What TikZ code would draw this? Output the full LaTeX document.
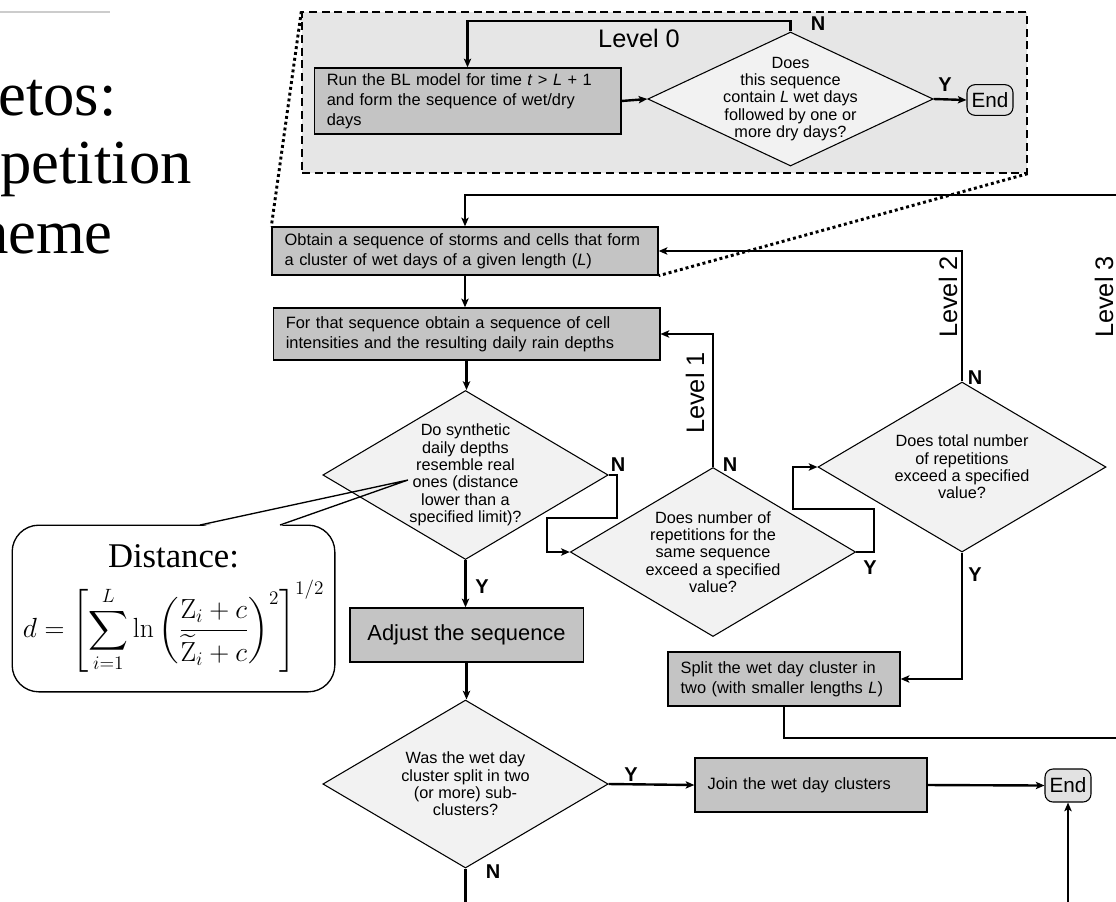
\documentclass[tikz,border=0pt]{standalone}
\usepackage[no-math]{fontspec}
\setmainfont{Liberation Sans}
\newfontfamily\serifttl{Liberation Serif}
\usepackage{amsmath}
\usetikzlibrary{shapes.geometric,arrows.meta}

\definecolor{boxgray}{HTML}{C4C4C4}
\definecolor{diagray}{HTML}{F2F2F2}
\definecolor{zonegray}{HTML}{E6E6E6}
\definecolor{endgray}{HTML}{E2E2E2}

\tikzset{
  procbox/.style={draw, line width=1pt, fill=boxgray, align=left, inner xsep=9.5pt, inner ysep=2pt,
    font=\fontsize{12.3}{15}\selectfont},
  decision/.style={draw, line width=0.8pt, fill=diagray, diamond, inner sep=0pt, minimum width=214pt},
  qtext/.style={align=center, inner sep=0pt, font=\fontsize{12.2}{13}\selectfont},
  stopbox/.style={draw, line width=0.8pt, fill=endgray, rounded corners=6pt, inner sep=0pt,
    minimum width=34.5pt, minimum height=23pt, font=\fontsize{15.5}{16}\selectfont},
  conn/.style={line width=1.8pt, -{Stealth[length=6.5pt,width=5.5pt,inset=1.5pt]}},
  yesno/.style={inner sep=0pt, font=\fontsize{15}{15}\bfseries\selectfont},
  lvl/.style={inner sep=0pt, font=\fontsize{19}{19}\selectfont},
  ttl/.style={anchor=base east, inner sep=0pt, font=\serifttl\fontsize{47}{52}\selectfont},
}

\begin{document}
\begin{tikzpicture}[x=0.75pt,y=-0.75pt]
  \useasboundingbox (0,0) rectangle (1116,901);

  % title, cut at the slide edge
  \draw[gray!40, line width=0.8pt] (0,12) -- (110,12);
  \node[ttl] (ttla) at (117,115) {etos:};
  \node[ttl] (ttlb) at (192,183) {petition};
  \node[ttl] (ttlc) at (113,253) {heme};

  % level 0 zone
  \node[draw, dashed, dash pattern=on 6pt off 3.5pt, line width=1pt, fill=zonegray,
    minimum width=543.75pt, minimum height=120.75pt, inner sep=0pt] (zone) at (664.5,92.5) {};
  \node[procbox, text width=211pt, minimum height=49.5pt] (run) at (467.5,101)
    {Run the BL model for time \textit{t} > \textit{L} + 1\\and form the sequence of wet/dry\\days};
  \node[decision, minimum height=100.5pt,
    label={[qtext]center:{Does\\this sequence\\contain \textit{L} wet days\\followed by one or\\more dry days?}}]
    (d0) at (790.5,99) {};
  \node[stopbox] (end0) at (990,100) {End};
  \coordinate (top0) at (0,21);

  % main chain
  \node[procbox, text width=270.5pt, minimum height=36pt] (obtain) at (465,251)
    {Obtain a sequence of storms and cells that form\\a cluster of wet days of a given length (\textit{L})};
  \node[procbox, text width=271pt, minimum height=39pt] (forthat) at (466.5,334)
    {For that sequence obtain a sequence of cell\\intensities and the resulting daily rain depths};

  % callout with the distance
  \node[draw, line width=1pt, fill=white, rounded corners=20pt, minimum width=242pt, minimum height=125pt,
    align=center, inner sep=0pt, font=\fontsize{21}{25}\selectfont] (callout) at (173.5,608.5)
    {{\serifttl\fontsize{26}{28}\selectfont Distance:}\\[8pt]
     $\displaystyle d=\left[\sum_{i=1}^{L}\ln\left(\frac{\mathrm{Z}_i+c}{\widetilde{\mathrm{Z}}_i+c}\right)^{2}\right]^{1/2}$};
  \coordinate (tip) at (408,480);
  \fill[white] (201,526.5) -- (tip) -- (279,526.5) -- cycle;

  \node[decision, minimum height=126.75pt,
    label={[qtext]center:{Do synthetic\\daily depths\\resemble real\\ones (distance\\lower than a\\specified limit)?}}]
    (d1) at (465.5,475) {};
  \node[draw, line width=1pt, fill=boxgray, minimum width=175pt, minimum height=40.5pt, inner sep=0pt,
    font=\fontsize{16.4}{18}\selectfont] (adjust) at (466.5,635) {Adjust the sequence};
  \node[decision, minimum height=126pt,
    label={[qtext]center:{Was the wet day\\cluster split in two\\(or more) sub-\\clusters?}}]
    (d4) at (465.5,784) {};
  \node[procbox, text width=155pt, minimum height=40.5pt] (join) at (811,785) {Join the wet day clusters};
  \node[stopbox, minimum height=24.75pt] (end1) at (1068,785.5) {End};

  % repetition tests
  \node[decision, minimum height=126.75pt,
    label={[qtext]center:{Does number of\\repetitions for the\\same sequence\\exceed a specified\\value?}}]
    (d2) at (713,552) {};
  \node[decision, minimum height=127.5pt, minimum width=216pt,
    label={[qtext]center:{Does total number\\of repetitions\\exceed a specified\\value?}}]
    (d3) at (962,467) {};
  \node[procbox, text width=155pt, minimum height=40.5pt] (split) at (784,679)
    {Split the wet day cluster in\\two (with smaller lengths \textit{L})};

  % zoom marks
  \draw[line width=2.2pt, dash pattern=on 2.2pt off 2.2pt] (zone.north west) -- (obtain.north west);
  \draw[line width=2.2pt, dash pattern=on 2.2pt off 2.2pt] (zone.south east) -- (obtain.south east);

  % callout pointer
  \draw[line width=1pt] (200,525) -- (tip) -- (280,525);

  % connectors
  \draw[conn] (run.east) -- (d0.west);
  \draw[conn] (d0.north) -- (d0.north |- top0) -| (run.north);
  \draw[conn] (d0.east) -- (end0.west);
  \draw[conn] (obtain.south) -- (obtain.south |- forthat.north);
  \draw[conn] (forthat.south) -- (forthat.south |- d1.north);
  \draw[conn] (d1.east) -| (617,518) -| (547,552) -- (d2.west);
  \draw[conn] (d1.south) -- (d1.south |- adjust.north);
  \draw[conn] (adjust.south) -- (adjust.south |- d4.north);
  \draw[conn] (d4.east) -- (join.west);
  \draw[conn] (join.east) -- (end1.west);
  \draw[conn] (d4.south) -- (465.5,915) -| (end1.south);
  \draw[conn] (d2.north) |- (forthat.east);
  \draw[conn] (d2.east) -| (874,509) -| (793,467) -- (d3.west);
  \draw[conn] (d3.north) |- (obtain.east);
  \draw[conn] (d3.south) |- (split.east);
  \coordinate (r3b) at (1130,738);
  \coordinate (r3t) at (1130,195);
  \draw[conn] (split.south) |- (r3b) -- (r3t) -| (obtain.north);

  % level names and answers
  \node[lvl] (lv0) at (639,38) {Level 0};
  \node[lvl, rotate=90] (lv1) at (695,393) {Level 1};
  \node[lvl, rotate=90] (lv2) at (948,297) {Level 2};
  \node[lvl, rotate=90] (lv3) at (1104,297) {Level 3};
  \node[yesno] (n0) at (818,24) {N};
  \node[yesno] (y0) at (945,85) {Y};
  \node[yesno] (n1) at (618,465) {N};
  \node[yesno] (y1) at (482,587) {Y};
  \node[yesno] (n2) at (730,465) {N};
  \node[yesno] (y2) at (870,568) {Y};
  \node[yesno] (n3) at (975,378) {N};
  \node[yesno] (y3) at (975,575) {Y};
  \node[yesno] (y4) at (631,775) {Y};
  \node[yesno] (n4) at (493,872) {N};
\end{tikzpicture}
\end{document}
